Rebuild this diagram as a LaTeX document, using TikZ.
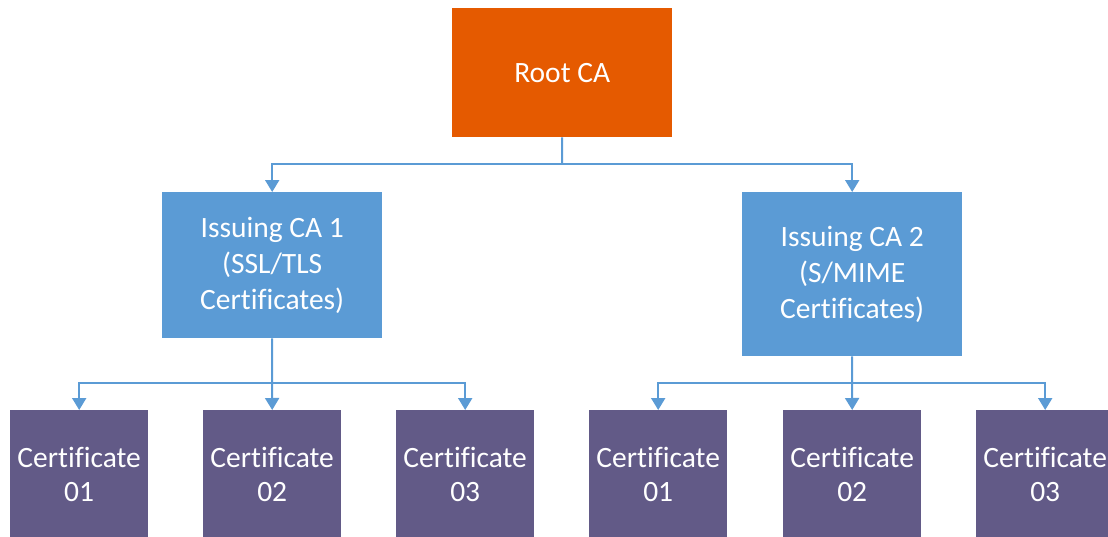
\documentclass[tikz,border=0pt]{standalone}
\usepackage{fontspec}
\setmainfont{Carlito}[Ligatures=NoCommon]
\usetikzlibrary{arrows.meta}
\definecolor{rootorange}{HTML}{E55A00}
\definecolor{issblue}{HTML}{5B9BD5}
\definecolor{certpurple}{HTML}{625A87}
\begin{document}
\begin{tikzpicture}[x=1pt,y=-1pt,
  box/.style={draw=none,inner sep=0pt,text=white,align=center,anchor=north west},
  rootbox/.style={box,fill=rootorange,minimum width=220pt,minimum height=129pt,font=\fontsize{29.5}{34}\selectfont},
  issbox/.style={box,fill=issblue,minimum width=220pt,font=\fontsize{29.5}{36}\selectfont},
  certbox/.style={box,fill=certpurple,minimum width=138pt,minimum height=128pt,font=\fontsize{29.5}{34}\selectfont},
  conn/.style={draw=issblue,line width=2pt},
  arr/.style={conn,-{Triangle[width=14pt,length=12pt]}}
]
\useasboundingbox (0,0) rectangle (1108,536);
\clip (0,0) rectangle (1108,536);
\node[rootbox] (root) at (452,8) {Root CA};
\node[issbox,minimum height=146pt] (ica1) at (162,192) {Issuing CA 1\\(SSL/TLS\\Certificates)};
\node[issbox,minimum height=164pt] (ica2) at (742,192) {Issuing CA 2\\(S/MIME\\Certificates)};
\node[certbox] (c11) at (10,410) {Certificate\\01};
\node[certbox] (c12) at (203,410) {Certificate\\02};
\node[certbox] (c13) at (396,410) {Certificate\\03};
\node[certbox] (c21) at (589,410) {Certificate\\01};
\node[certbox] (c22) at (783,410) {Certificate\\02};
\node[certbox] (c23) at (976,410) {Certificate\\03};
\coordinate (j0) at (562,164);
\coordinate (j1) at (272,383);
\coordinate (j2) at (852,383);
\draw[conn] (root.south) -- (j0);
\draw[arr] (j0) -| (ica1.north);
\draw[arr] (j0) -| (ica2.north);
\draw[conn] (ica1.south) -- (j1);
\draw[arr] (j1) -| (c11.north);
\draw[arr] (j1) -- (c12.north);
\draw[arr] (j1) -| (c13.north);
\draw[conn] (ica2.south) -- (j2);
\draw[arr] (j2) -| (c21.north);
\draw[arr] (j2) -- (c22.north);
\draw[arr] (j2) -| (c23.north);
\end{tikzpicture}
\end{document}
